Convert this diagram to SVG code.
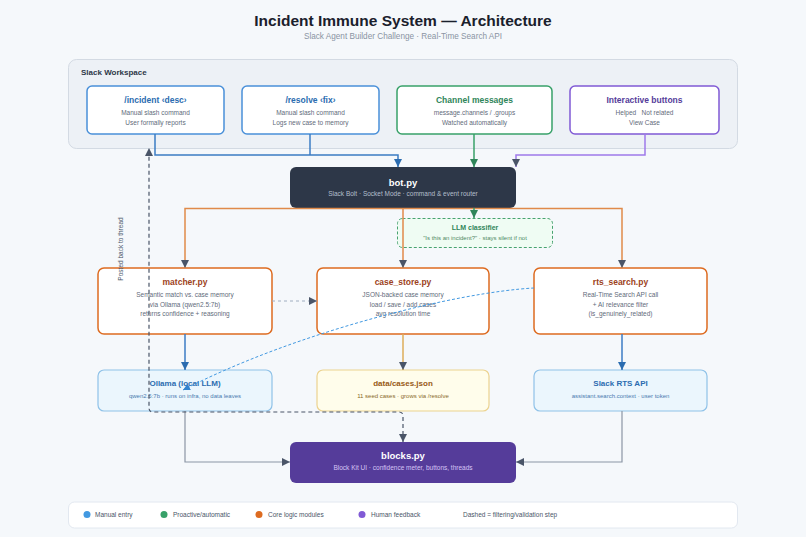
<svg xmlns="http://www.w3.org/2000/svg" width="806" height="537" viewBox="0 0 806 537">
<defs>
<style>
text{font-family:"Liberation Sans",Arial,sans-serif}
.t{font-weight:bold;text-anchor:middle}
.b{font-size:6.5px;fill:#5f6b7a;text-anchor:middle}
.ws{fill:#fff;stroke-width:1.5}
.core{fill:#fff;stroke:#dd6b20;stroke-width:1.5}
.ct{font-size:8.5px;fill:#9c4221}
.ln{fill:none;stroke-width:1.5}
.lg{font-size:6.5px;fill:#4a5568}
</style>
<marker id="aD" markerUnits="userSpaceOnUse" markerWidth="8" markerHeight="8" refX="8" refY="4" orient="auto-start-reverse"><path d="M0,0 L8,4 L0,8 z" fill="#4a5568"/></marker>
<marker id="aB" markerUnits="userSpaceOnUse" markerWidth="8" markerHeight="8" refX="8" refY="4" orient="auto"><path d="M0,0 L8,4 L0,8 z" fill="#2b6cb0"/></marker>
<marker id="aG" markerUnits="userSpaceOnUse" markerWidth="8" markerHeight="8" refX="8" refY="4" orient="auto"><path d="M0,0 L8,4 L0,8 z" fill="#2f855a"/></marker>
<marker id="aL" markerUnits="userSpaceOnUse" markerWidth="7" markerHeight="7" refX="7" refY="3.5" orient="auto"><path d="M0,0 L7,3.5 L0,7 z" fill="#3182ce"/></marker>
</defs>
<rect width="806" height="537" fill="#f5f8fb"/>
<text x="403" y="25.5" class="t" font-size="15.5" fill="#1a202c">Incident Immune System — Architecture</text>
<text x="403" y="39" font-size="8.2" fill="#8a94a3" text-anchor="middle">Slack Agent Builder Challenge · Real-Time Search API</text>

<g id="slack-workspace">
<rect x="68.5" y="59.5" width="669" height="89" rx="8" fill="#edf1f6" stroke="#d3dae3"/>
<text x="81" y="75" font-size="8" font-weight="bold" fill="#2d3748">Slack Workspace</text>
</g>
<g id="incident">
<rect x="87" y="86" width="137" height="48" rx="5" class="ws" stroke="#4a90d9"/>
<text x="155.5" y="103" class="t" font-size="8.5" fill="#2b6cb0">/incident ‹desc›</text>
<text x="155.5" y="114.5" class="b">Manual slash command</text>
<text x="155.5" y="124.5" class="b">User formally reports</text>
</g>
<g id="resolve">
<rect x="242" y="86" width="137" height="48" rx="5" class="ws" stroke="#4a90d9"/>
<text x="310.5" y="103" class="t" font-size="8.5" fill="#2b6cb0">/resolve ‹fix›</text>
<text x="310.5" y="114.5" class="b">Manual slash command</text>
<text x="310.5" y="124.5" class="b">Logs new case to memory</text>
</g>
<g id="channel-messages">
<rect x="397" y="86" width="155" height="48" rx="5" class="ws" stroke="#38a169"/>
<text x="474.5" y="103" class="t" font-size="8.5" fill="#2f855a">Channel messages</text>
<text x="474.5" y="114.5" class="b">message.channels / .groups</text>
<text x="474.5" y="124.5" class="b">Watched automatically</text>
</g>
<g id="interactive-buttons">
<rect x="570" y="86" width="149" height="48" rx="5" class="ws" stroke="#805ad5"/>
<text x="644.5" y="103" class="t" font-size="8.5" fill="#553c9a">Interactive buttons</text>
<text x="644.5" y="114.5" class="b" xml:space="preserve">Helped   Not related</text>
<text x="644.5" y="124.5" class="b">View Case</text>
</g>

<g id="bot">
<rect x="290" y="167" width="226" height="41" rx="6" fill="#2d3748"/>
<text x="403" y="185.5" class="t" font-size="9.5" fill="#fff">bot.py</text>
<text x="403" y="195.5" font-size="6.5" fill="#b4bfcc" text-anchor="middle">Slack Bolt · Socket Mode · command &amp; event router</text>
</g>
<g id="llm-classifier">
<rect x="397.5" y="218.5" width="155" height="29" rx="5" fill="#effcf3" stroke="#48a36f" stroke-dasharray="3,2"/>
<text x="475" y="229.5" class="t" font-size="7" fill="#2f855a">LLM classifier</text>
<text x="475" y="239.5" font-size="6" fill="#4f8a64" text-anchor="middle">"Is this an incident?" · stays silent if not</text>
</g>

<g id="matcher">
<rect x="98" y="268" width="174" height="66" rx="6" class="core"/>
<text x="185" y="285" class="t ct">matcher.py</text>
<text x="185" y="297" class="b">Semantic match vs. case memory</text>
<text x="185" y="306.5" class="b">via Ollama (qwen2.5:7b)</text>
<text x="185" y="316" class="b">returns confidence + reasoning</text>
</g>
<g id="case-store">
<rect x="317" y="268" width="172" height="66" rx="6" class="core"/>
<text x="403" y="285" class="t ct">case_store.py</text>
<text x="403" y="297" class="b">JSON-backed case memory</text>
<text x="403" y="306.5" class="b">load / save / add cases</text>
<text x="403" y="316" class="b">avg resolution time</text>
</g>
<g id="rts-search">
<rect x="534" y="268" width="173" height="66" rx="6" class="core"/>
<text x="620.5" y="285" class="t ct">rts_search.py</text>
<text x="620.5" y="297" class="b">Real-Time Search API call</text>
<text x="620.5" y="306.5" class="b">+ AI relevance filter</text>
<text x="620.5" y="316" class="b">(is_genuinely_related)</text>
</g>

<g id="ollama">
<rect x="98" y="370" width="174" height="41" rx="6" fill="#ebf6fd" stroke="#8fc2e8" stroke-width="1.2"/>
<text x="185" y="386" class="t" font-size="8" fill="#2b6cb0">Ollama (local LLM)</text>
<text x="185" y="397.5" font-size="6" fill="#4a7bb0" text-anchor="middle">qwen2.5:7b · runs on infra, no data leaves</text>
</g>
<g id="cases-json">
<rect x="317" y="370" width="172" height="41" rx="6" fill="#fffdeb" stroke="#ecd38f" stroke-width="1.2"/>
<text x="403" y="386" class="t" font-size="8" fill="#975a16">data/cases.json</text>
<text x="403" y="397.5" font-size="6" fill="#8a6a2a" text-anchor="middle">11 seed cases · grows via /resolve</text>
</g>
<g id="slack-rts-api">
<rect x="534" y="370" width="173" height="41" rx="6" fill="#ebf6fd" stroke="#8fc2e8" stroke-width="1.2"/>
<text x="620.5" y="386" class="t" font-size="8" fill="#2b6cb0">Slack RTS API</text>
<text x="620.5" y="397.5" font-size="6" fill="#4a7bb0" text-anchor="middle">assistant.search.context · user token</text>
</g>

<g id="blocks">
<rect x="290" y="442" width="226" height="41" rx="6" fill="#553c9a"/>
<text x="403" y="458.5" class="t" font-size="9.5" fill="#fff">blocks.py</text>
<text x="403" y="470" font-size="6.5" fill="#d6c4f5" text-anchor="middle">Block Kit UI · confidence meter, buttons, threads</text>
</g>

<g id="connectors">
<path class="ln" d="M155,134 V155 H398 V167" stroke="#3b7cc4" marker-end="url(#aB)"/>
<path class="ln" d="M310,134 V155" stroke="#3b7cc4"/>
<path class="ln" d="M474,134 V167" stroke="#38a169" marker-end="url(#aG)"/>
<path class="ln" d="M645,134 V155 H516 V167" stroke="#9f7aea" marker-end="url(#aD)"/>
<path class="ln" d="M185,268 V208.5 H622 V268" stroke="#e08a4a" marker-end="url(#aD)" marker-start="url(#aD)"/>
<path class="ln" d="M403,208.5 V268" stroke="#e08a4a" marker-end="url(#aD)"/>
<path class="ln" d="M474,208 V218" stroke="#38a169" marker-end="url(#aG)"/>
<path d="M272,301 H317" fill="none" stroke="#a0aec0" stroke-width="1" stroke-dasharray="3,3" marker-end="url(#aD)"/>
<path class="ln" d="M185,334 V370" stroke="#3b7cc4" marker-end="url(#aB)"/>
<path class="ln" d="M403,334 V370" stroke="#dcae5a" marker-end="url(#aD)"/>
<path class="ln" d="M622,334 V370" stroke="#3b7cc4" marker-end="url(#aB)"/>
<path d="M185,411 V462 H290" fill="none" stroke="#8c96a5" stroke-width="1.2" marker-end="url(#aD)"/>
<path d="M622,411 V462 H516" fill="none" stroke="#8c96a5" stroke-width="1.2" marker-end="url(#aD)"/>
<path d="M534,288 C460,292 300,330 183,390" fill="none" stroke="#4299e1" stroke-width="1" stroke-dasharray="3,2" marker-end="url(#aL)"/>
<path d="M403,442 V416 Q403,412 399,412 H153 Q149,412 149,408 V148" fill="none" stroke="#4a5568" stroke-width="1.2" stroke-dasharray="4,3" marker-start="url(#aD)" marker-end="url(#aD)"/>
<text transform="translate(122.5,249) rotate(-90)" font-size="6.5" fill="#4a5568" text-anchor="middle">Posted back to thread</text>
</g>

<g id="legend">
<rect x="68.5" y="502" width="669" height="26" rx="6" fill="#fff" stroke="#e2e8f0"/>
<circle cx="87" cy="514.5" r="3.5" fill="#4299e1"/>
<text x="95" y="517" class="lg">Manual entry</text>
<circle cx="164" cy="514.5" r="3.5" fill="#38a169"/>
<text x="173" y="517" class="lg">Proactive/automatic</text>
<circle cx="259" cy="514.5" r="3.5" fill="#dd6b20"/>
<text x="268" y="517" class="lg">Core logic modules</text>
<circle cx="362" cy="514.5" r="3.5" fill="#805ad5"/>
<text x="371" y="517" class="lg">Human feedback</text>
<text x="463" y="517" class="lg" fill="#718096">Dashed = filtering/validation step</text>
</g>
</svg>
